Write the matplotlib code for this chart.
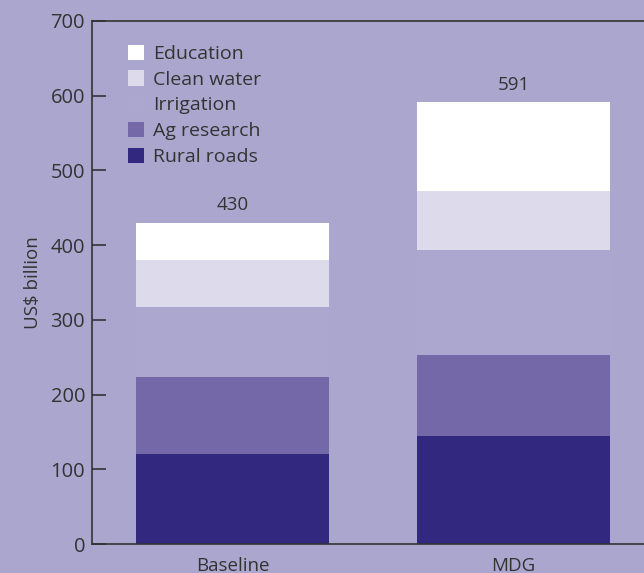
import numpy as np
from matplotlib import pyplot as plt
from matplotlib.patches import Patch

# Data
scenarios = ['Baseline', 'MDG']
rural_roads = [121, 144]
ag_research = [102, 109]
irrigation = [94, 140]
clean_water = [63, 80]
education = [50, 118]
totals = ['430', '591']

bg = '#aba6ce'
txt = '#333333'
series = [('Rural roads', rural_roads, '#32287f'),
          ('Ag research', ag_research, '#7468a8'),
          ('Irrigation', irrigation, '#aca7cf'),
          ('Clean water', clean_water, '#dddbeb'),
          ('Education', education, '#ffffff')]

plt.rcParams['font.family'] = ['Open Sans', 'DejaVu Sans']

fig = plt.figure(figsize=(6.44, 5.73), dpi=100, facecolor=bg)
ax = fig.add_axes([0.1429, 0.0506, 0.8571, 0.9128], facecolor=bg)

x = np.arange(len(scenarios))
bottom = np.zeros(len(scenarios))
for name, vals, col in series:
    ax.bar(x, vals, width=0.685, bottom=bottom, color=col, linewidth=0)
    bottom += np.array(vals)

for xi, top, lab in zip(x, bottom, totals):
    ax.text(xi, top + 11, lab, ha='center', va='bottom', fontsize=13.5, color=txt)

ax.set_xlim(-0.5, 1.464)
ax.set_ylim(0, 700)
ax.set_yticks(range(0, 701, 100))
ax.set_xticks(x)
ax.set_xticklabels(scenarios, fontsize=13.5, color=txt)
ax.tick_params(axis='y', direction='in', length=10, width=1.2, colors=txt,
               labelsize=14.5, pad=5)
ax.tick_params(axis='x', length=0, pad=9)
ax.set_ylabel('US$ billion', fontsize=13.5, color=txt, labelpad=6)

for s in ['left', 'top', 'bottom']:
    ax.spines[s].set_color(txt)
    ax.spines[s].set_linewidth(1.2)
ax.spines['right'].set_visible(False)

handles = [Patch(facecolor=col, edgecolor='none', label=name) for name, vals, col in series[::-1]]
ax.legend(handles=handles, loc='upper left', bbox_to_anchor=(0.034, 0.988),
          frameon=False, fontsize=14, handlelength=0.82, handleheight=0.82,
          handletextpad=0.45, labelspacing=0.38, labelcolor=txt)

fig.savefig('out.png', dpi=100, facecolor=bg)
